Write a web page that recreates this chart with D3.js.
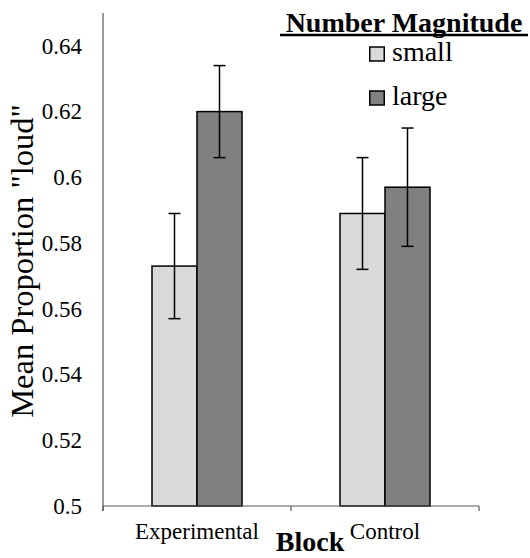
<!DOCTYPE html>
<html>
<head>
<meta charset="utf-8">
<script src="https://cdn.jsdelivr.net/npm/d3@7"></script>
</head>
<body style="margin:0">
<svg id="chart" width="530" height="558" style="display:block"></svg>
<script>
// ---- Data ----
const categories = ["Experimental", "Control"];
const seriesNames = ["small", "large"];
const seriesColors = ["#d9d9d9", "#808080"];
const smallValues = [0.573, 0.589];
const largeValues = [0.620, 0.597];
const smallErrors = [0.016, 0.017];
const largeErrors = [0.014, 0.018];
const yTicks = [0.5, 0.52, 0.54, 0.56, 0.58, 0.6, 0.62, 0.64];
const yDomain = [0.5, 0.65];
const yTitle = 'Mean Proportion "loud"';
const xTitle = "Block";
const legendTitle = "Number Magnitude";

const FONT = '"Liberation Serif"';

const rows = categories.map((c, i) => ({
  category: c,
  bars: [
    { series: seriesNames[0], value: smallValues[i], err: smallErrors[i] },
    { series: seriesNames[1], value: largeValues[i], err: largeErrors[i] }
  ]
}));

// ---- Layout ----
const svg = d3.select("#chart");
const plot = { left: 103, right: 479, top: 13, bottom: 506 };

const x0 = d3.scaleBand().domain(categories).range([plot.left, plot.right]).paddingInner(0).paddingOuter(0);
const barW = 45;
const x1 = d3.scaleBand().domain(seriesNames).range([0, barW * 2]);
const y = d3.scaleLinear().domain(yDomain).range([plot.bottom, plot.top]);
const color = d3.scaleOrdinal().domain(seriesNames).range(seriesColors);

function txt(sel, size, bold) {
  return sel.style("font-family", FONT).style("font-size", size + "px")
    .style("font-weight", bold ? "bold" : "normal").attr("fill", "#000");
}

// Bars
const groups = svg.append("g").selectAll("g").data(rows).join("g")
  .attr("transform", d => `translate(${x0(d.category) + (x0.bandwidth() - barW * 2) / 2},0)`);

groups.selectAll("rect").data(d => d.bars).join("rect")
  .attr("x", d => x1(d.series))
  .attr("y", d => y(d.value))
  .attr("width", x1.bandwidth())
  .attr("height", d => y(yDomain[0]) - y(d.value))
  .attr("fill", d => color(d.series))
  .attr("stroke", "#000")
  .attr("stroke-width", 1.5);

// Error bars
const capW = 12;
const eb = groups.selectAll("g.err").data(d => d.bars).join("g").attr("class", "err")
  .attr("transform", d => `translate(${x1(d.series) + x1.bandwidth() / 2},0)`);
eb.append("line")
  .attr("x1", 0).attr("x2", 0)
  .attr("y1", d => y(d.value + d.err)).attr("y2", d => y(d.value - d.err))
  .attr("stroke", "#000").attr("stroke-width", 1.5);
eb.selectAll("line.cap").data(d => [d.value + d.err, d.value - d.err]).join("line")
  .attr("class", "cap")
  .attr("x1", -capW / 2).attr("x2", capW / 2)
  .attr("y1", v => y(v)).attr("y2", v => y(v))
  .attr("stroke", "#000").attr("stroke-width", 1.5);

// Y axis
const yAxis = d3.axisLeft(y).tickValues(yTicks).tickSize(0).tickPadding(21)
  .tickFormat(d => String(+d.toFixed(2)));
const yg = svg.append("g").attr("transform", `translate(${plot.left},0)`).call(yAxis);
yg.attr("font-family", null).attr("font-size", null);
yg.select(".domain").remove();
txt(yg.selectAll("text"), 23, false);
svg.append("line").attr("x1", plot.left).attr("x2", plot.left)
  .attr("y1", plot.top).attr("y2", plot.bottom + 5)
  .attr("stroke", "#595959").attr("stroke-width", 1.2);

// X axis
svg.append("line").attr("x1", plot.left).attr("x2", plot.right)
  .attr("y1", plot.bottom).attr("y2", plot.bottom)
  .attr("stroke", "#595959").attr("stroke-width", 1.2);
const boundaries = [plot.left, ...categories.map(c => x0(c) + x0.bandwidth())];
svg.selectAll("line.xt").data(boundaries).join("line").attr("class", "xt")
  .attr("x1", d => d).attr("x2", d => d)
  .attr("y1", plot.bottom).attr("y2", plot.bottom + 5)
  .attr("stroke", "#595959").attr("stroke-width", 1.2);
txt(svg.selectAll("text.cat").data(categories).join("text").attr("class", "cat")
  .attr("x", d => x0(d) + x0.bandwidth() / 2)
  .attr("y", 539)
  .attr("text-anchor", "middle"), 23, false)
  .text(d => d);

// Axis titles
txt(svg.append("text")
  .attr("x", 310).attr("y", 551)
  .attr("text-anchor", "middle"), 28, true)
  .text(xTitle);
txt(svg.append("text")
  .attr("transform", `translate(33,261) rotate(-90)`)
  .attr("text-anchor", "middle"), 32.5, false)
  .text(yTitle);

// Legend
txt(svg.append("text")
  .attr("x", 404).attr("y", 32)
  .attr("text-anchor", "middle"), 28, true)
  .text(legendTitle);
svg.append("line")
  .attr("x1", 280).attr("x2", 528)
  .attr("y1", 35).attr("y2", 35)
  .attr("stroke", "#000").attr("stroke-width", 2.5);

const legend = svg.append("g").selectAll("g").data(seriesNames).join("g")
  .attr("transform", (d, i) => `translate(369,${61 + i * 44})`);
legend.append("rect")
  .attr("x", 0.75).attr("y", -14)
  .attr("width", 14.5).attr("height", 14)
  .attr("fill", d => color(d))
  .attr("stroke", "#000").attr("stroke-width", 1.5);
txt(legend.append("text")
  .attr("x", 23).attr("y", 0), 28, false)
  .text(d => d);
</script>
</body>
</html>
